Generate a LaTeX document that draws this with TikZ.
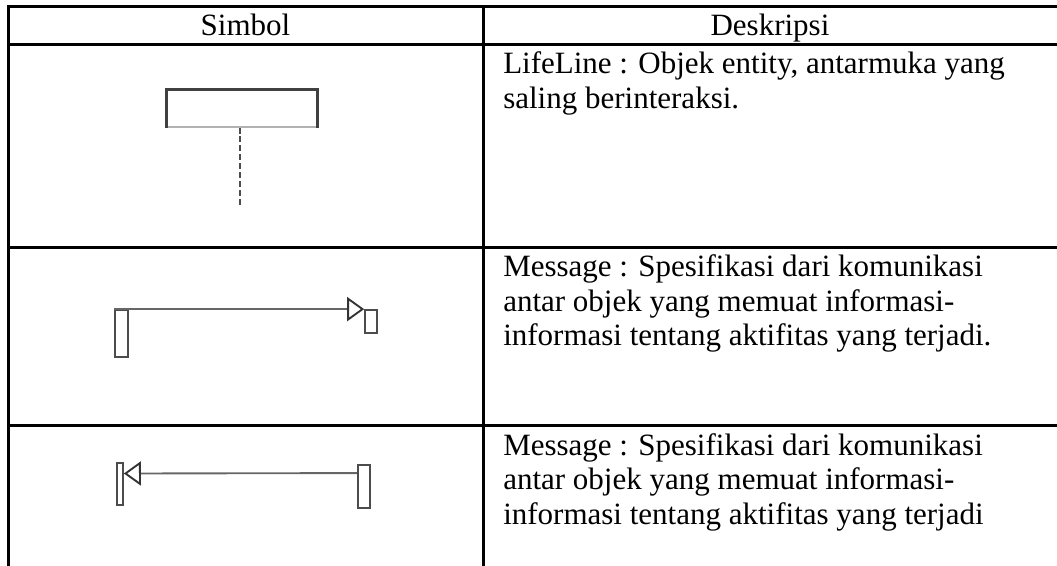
\documentclass[tikz,border=0pt]{standalone}
\usepackage{fontspec}
\setmainfont{Liberation Serif}
\usetikzlibrary{arrows.meta,calc}
\begin{document}
\begin{tikzpicture}[x=0.75pt,y=-0.75pt,
  grid/.style={line width=2.25pt,black},
  txt/.style={inner sep=0pt,align=left,anchor=base west,font=\fontsize{23.25pt}{25.875pt}\selectfont},
  head/.style={inner sep=0pt,anchor=base,font=\fontsize{23.25pt}{25.875pt}\selectfont},
  symbox/.style={draw=black!70,line width=1.3pt,inner sep=0pt,fill=white},
  msg/.style={draw=black!60,line width=1.4pt,-{Triangle[open,length=12.75pt,width=18pt,line width=1.4pt,black!80]}},
  life/.style={draw=black!70,line width=2.2pt,dash pattern=on 4.5pt off 2.2pt}
]
\useasboundingbox (0,0) rectangle (1057,566);
% table grid
\draw[grid] (8,566) -- (8,7) -- (1060,7);
\draw[grid] (8,45) -- (1060,45);
\draw[grid] (8,248) -- (1060,248);
\draw[grid] (8,426) -- (1060,426);
\draw[grid] (483,7) -- (483,566);
% header
\node[head] (h1) at (245.5,36) {Simbol};
\node[head] (h2) at (770,36) {Deskripsi};
% descriptions (base anchor = last line's baseline)
\node[txt] (d1) at (503,108.5) {LifeLine : Objek entity, antarmuka yang\\saling berinteraksi.};
\node[txt] (d2) at (503,346) {Message : Spesifikasi dari komunikasi\\antar objek yang memuat informasi-\\informasi tentang aktifitas yang terjadi.};
\node[txt] (d3) at (503,524) {Message : Spesifikasi dari komunikasi\\antar objek yang memuat informasi-\\informasi tentang aktifitas yang terjadi};
% lifeline symbol
\node[symbox,draw=black!30,line width=0.8pt,minimum width=112.5pt,minimum height=27.75pt] (ll) at (242,108.5) {};
\draw[black!75,line width=2.2pt] (ll.south west) -- (ll.north west) -- (ll.north east) -- (ll.south east);
\coordinate (llend) at (240,207);
\draw[life] (ll.south -| llend) -- (llend);
% message 1
\node[symbox,minimum width=9.75pt,minimum height=35.25pt] (m1a) at (121.5,333.5) {};
\node[symbox,minimum width=9pt,minimum height=17.25pt] (m1b) at (371,321.5) {};
\draw[msg] (m1a.north west) -- (m1b.north west);
% message 2
\node[symbox,minimum width=4.5pt,minimum height=31.5pt] (m2a) at (120,484) {};
\node[symbox,minimum width=9pt,minimum height=32.25pt] (m2b) at (364,486.5) {};
\draw[msg] ($(m2b.north west)!0.2!(m2b.south west)$) -- ($(m2a.north east)!0.26!(m2a.south east)$);
\end{tikzpicture}
\end{document}
